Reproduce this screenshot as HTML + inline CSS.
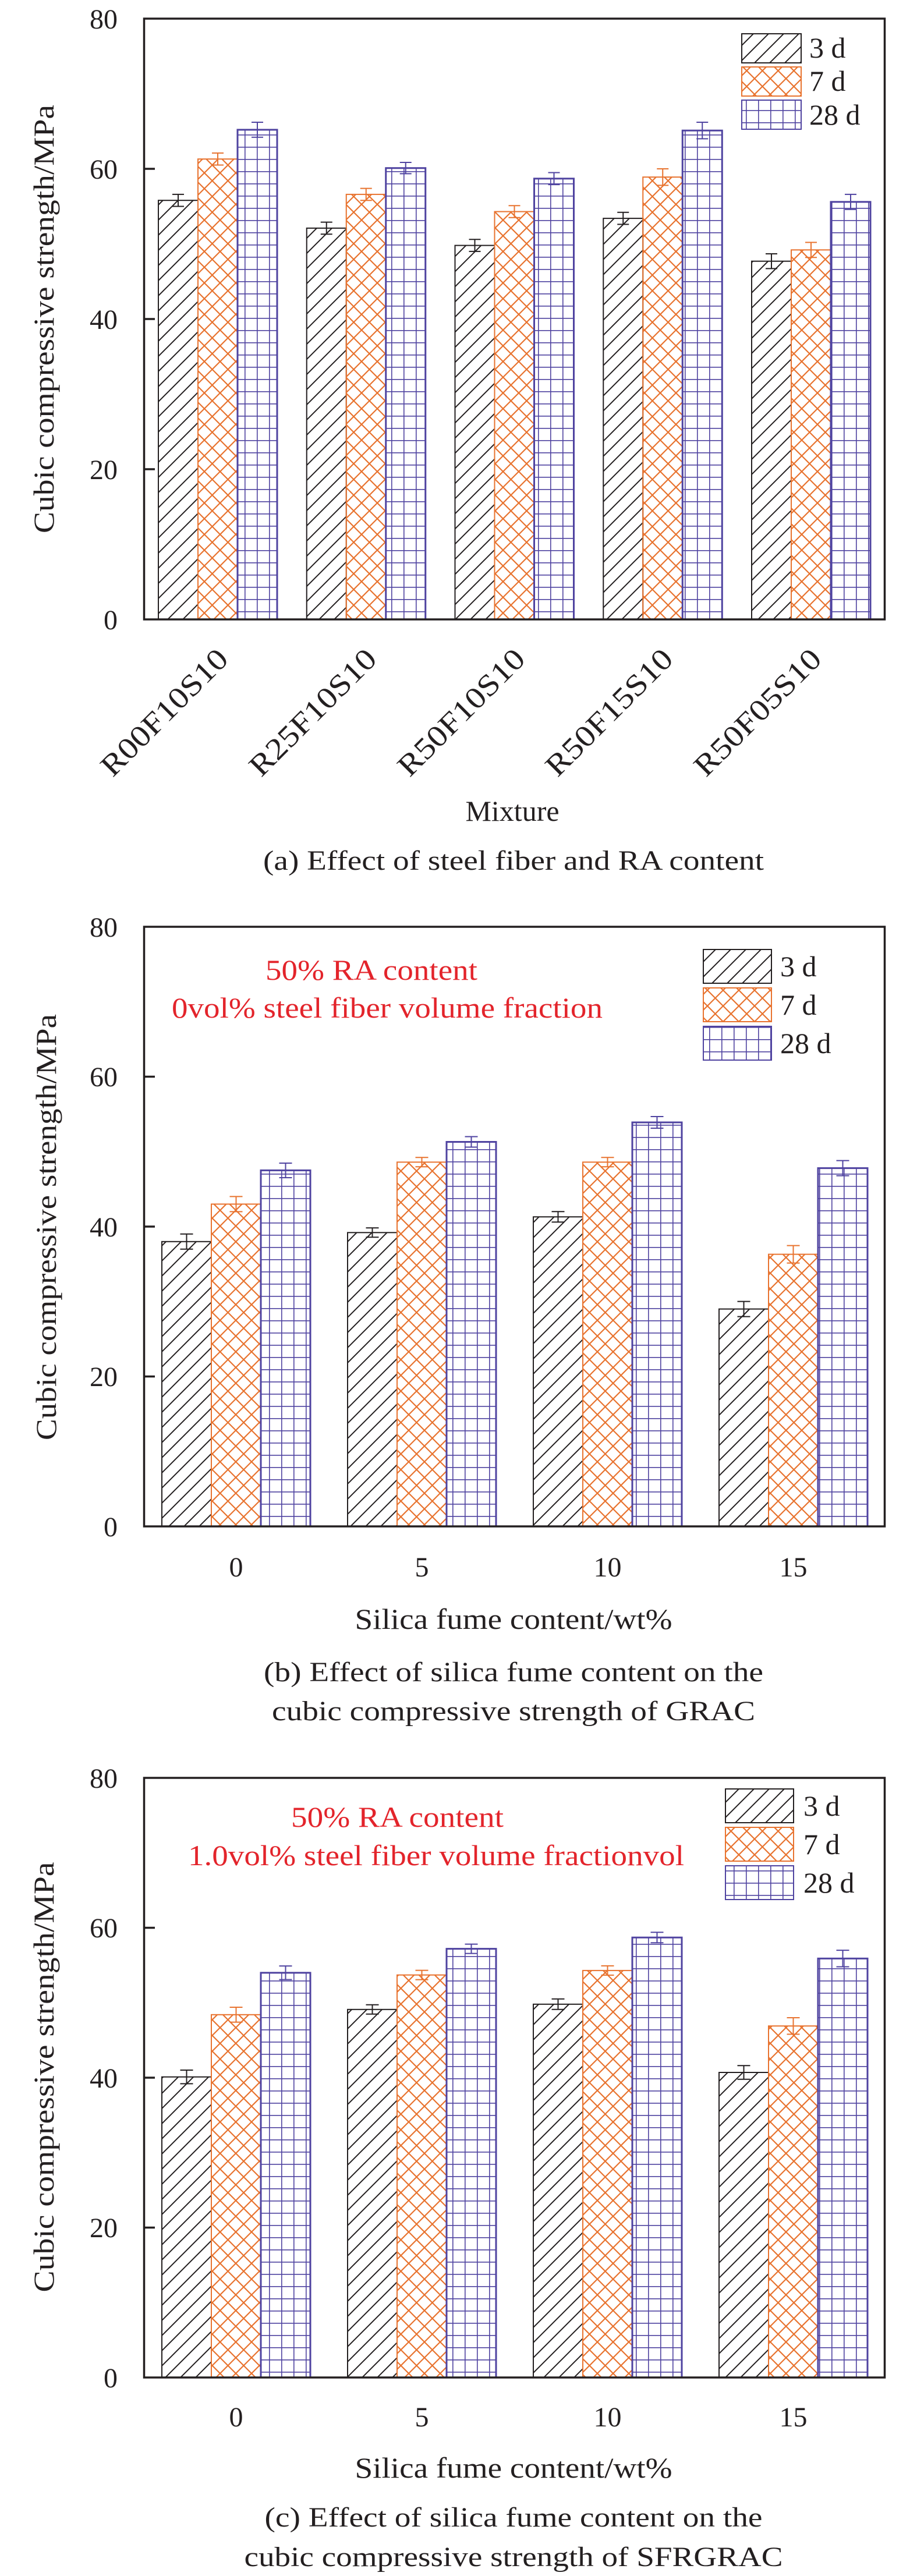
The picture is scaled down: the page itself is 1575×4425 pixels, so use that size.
<!DOCTYPE html>
<html><head><meta charset="utf-8"><style>html,body{margin:0;padding:0;background:#fff}svg{display:block}svg text{font-family:"Liberation Serif","Times New Roman","DejaVu Serif",serif;fill:#231f20}</style></head><body>
<svg width="1575" height="4425" viewBox="0 0 1575 4425" xmlns="http://www.w3.org/2000/svg" font-family="Liberation Serif, Times New Roman, DejaVu Serif, serif">
<defs>
<pattern id="ph" patternUnits="userSpaceOnUse" width="26" height="26"><path d="M-2,28 L28,-2 M-15,15 L15,-15 M11,41 L41,11" stroke="#231f20" stroke-width="2"/></pattern>
<pattern id="px" patternUnits="userSpaceOnUse" width="27" height="27"><path d="M0,0 L27,27 M27,0 L0,27" stroke="#e8732f" stroke-width="2.2"/></pattern>
<pattern id="pg" patternUnits="userSpaceOnUse" width="21" height="21"><path d="M0,0.5 H21 M0.5,0 V21" stroke="#4f43a0" stroke-width="2.2"/></pattern>
</defs>
<g id="A">
<g stroke-width="2">
<rect x="272" y="344.2" width="68" height="719.8" fill="url(#ph)" stroke="#231f20"/>
<rect x="340" y="273.2" width="68" height="790.8" fill="url(#px)" stroke="#e8732f"/>
<rect x="408" y="222.9" width="68" height="841.1" fill="url(#pg)" stroke="#4f43a0" stroke-width="3"/>
<rect x="526.75" y="391.9" width="68" height="672.1" fill="url(#ph)" stroke="#231f20"/>
<rect x="594.75" y="333.9" width="68" height="730.1" fill="url(#px)" stroke="#e8732f"/>
<rect x="662.75" y="288.7" width="68" height="775.3" fill="url(#pg)" stroke="#4f43a0" stroke-width="3"/>
<rect x="781.5" y="421.6" width="68" height="642.4" fill="url(#ph)" stroke="#231f20"/>
<rect x="849.5" y="363.5" width="68" height="700.5" fill="url(#px)" stroke="#e8732f"/>
<rect x="917.5" y="306.8" width="68" height="757.2" fill="url(#pg)" stroke="#4f43a0" stroke-width="3"/>
<rect x="1036.25" y="375.1" width="68" height="688.9" fill="url(#ph)" stroke="#231f20"/>
<rect x="1104.25" y="304.2" width="68" height="759.8" fill="url(#px)" stroke="#e8732f"/>
<rect x="1172.25" y="224.2" width="68" height="839.8" fill="url(#pg)" stroke="#4f43a0" stroke-width="3"/>
<rect x="1291" y="448.7" width="68" height="615.3" fill="url(#ph)" stroke="#231f20"/>
<rect x="1359" y="429.3" width="68" height="634.7" fill="url(#px)" stroke="#e8732f"/>
<rect x="1427" y="346.8" width="68" height="717.2" fill="url(#pg)" stroke="#4f43a0" stroke-width="3"/>
</g>
<g stroke-width="2" fill="none">
<path stroke="#231f20" d="M306,333.9V354.5M296,333.9H316M296,354.5H316 M560.75,381.6V402.2M550.75,381.6H570.75M550.75,402.2H570.75 M815.5,411.3V431.9M805.5,411.3H825.5M805.5,431.9H825.5 M1070.25,364.8V385.4M1060.25,364.8H1080.25M1060.25,385.4H1080.25 M1325,436V461.4M1315,436H1335M1315,461.4H1335"/>
<path stroke="#e8732f" d="M374,262.9V283.5M364,262.9H384M364,283.5H384 M628.75,323.6V344.2M618.75,323.6H638.75M618.75,344.2H638.75 M883.5,353.2V373.8M873.5,353.2H893.5M873.5,373.8H893.5 M1138.25,290V318.4M1128.25,290H1148.25M1128.25,318.4H1148.25 M1393,416.4V442.2M1383,416.4H1403M1383,442.2H1403"/>
<path stroke="#4f43a0" d="M442,210V235.8M432,210H452M432,235.8H452 M696.75,279V298.4M686.75,279H706.75M686.75,298.4H706.75 M951.5,296.5V317.1M941.5,296.5H961.5M941.5,317.1H961.5 M1206.25,210V238.4M1196.25,210H1216.25M1196.25,238.4H1216.25 M1461,333.9V359.7M1451,333.9H1471M1451,359.7H1471"/>
</g>
<rect x="247.5" y="32" width="1272" height="1032" fill="none" stroke="#231f20" stroke-width="3.5"/>
<path d="M247,290H266M247,548H266M247,806H266" stroke="#231f20" stroke-width="3.5"/>
<g font-size="48" text-anchor="end"><text x="202" y="49">80</text><text x="202" y="307">60</text><text x="202" y="565">40</text><text x="202" y="823">20</text><text x="202" y="1081">0</text></g>
<text transform="translate(92,548) rotate(-90)" font-size="50" text-anchor="middle" textLength="736" lengthAdjust="spacingAndGlyphs">Cubic compressive strength/MPa</text>
<g font-size="52" text-anchor="end">
<text transform="translate(395,1135) rotate(-45)" textLength="285" lengthAdjust="spacingAndGlyphs">R00F10S10</text>
<text transform="translate(650,1135) rotate(-45)" textLength="285" lengthAdjust="spacingAndGlyphs">R25F10S10</text>
<text transform="translate(905,1135) rotate(-45)" textLength="285" lengthAdjust="spacingAndGlyphs">R50F10S10</text>
<text transform="translate(1159,1135) rotate(-45)" textLength="285" lengthAdjust="spacingAndGlyphs">R50F15S10</text>
<text transform="translate(1414,1135) rotate(-45)" textLength="285" lengthAdjust="spacingAndGlyphs">R50F05S10</text>
</g>
<text x="880" y="1410" font-size="50" text-anchor="middle">Mixture</text>
<text x="882" y="1494" font-size="48" text-anchor="middle" textLength="860" lengthAdjust="spacingAndGlyphs">(a) Effect of steel fiber and RA content</text>
<rect x="1274" y="58" width="102" height="50" fill="url(#ph)" stroke="#231f20" stroke-width="2"/>
<rect x="1274" y="115" width="102" height="50" fill="url(#px)" stroke="#e8732f" stroke-width="2"/>
<rect x="1274" y="172" width="102" height="50" fill="url(#pg)" stroke="#4f43a0" stroke-width="2"/>
<g font-size="50"><text x="1390" y="99">3 d</text><text x="1390" y="156">7 d</text><text x="1390" y="214">28 d</text></g>
</g>

<g>
<g stroke-width="2">
<rect x="278" y="2132.8" width="85" height="489.2" fill="url(#ph)" stroke="#231f20"/>
<rect x="363" y="2068.4" width="85" height="553.6" fill="url(#px)" stroke="#e8732f"/>
<rect x="448" y="2010.4" width="85" height="611.6" fill="url(#pg)" stroke="#4f43a0" stroke-width="3"/>
<rect x="597" y="2117.3" width="85" height="504.7" fill="url(#ph)" stroke="#231f20"/>
<rect x="682" y="1996.3" width="85" height="625.7" fill="url(#px)" stroke="#e8732f"/>
<rect x="767" y="1961.5" width="85" height="660.5" fill="url(#pg)" stroke="#4f43a0" stroke-width="3"/>
<rect x="916" y="2090.3" width="85" height="531.7" fill="url(#ph)" stroke="#231f20"/>
<rect x="1001" y="1996.3" width="85" height="625.7" fill="url(#px)" stroke="#e8732f"/>
<rect x="1086" y="1928" width="85" height="694" fill="url(#pg)" stroke="#4f43a0" stroke-width="3"/>
<rect x="1235" y="2248.6" width="85" height="373.4" fill="url(#ph)" stroke="#231f20"/>
<rect x="1320" y="2154.6" width="85" height="467.4" fill="url(#px)" stroke="#e8732f"/>
<rect x="1405" y="2006.6" width="85" height="615.4" fill="url(#pg)" stroke="#4f43a0" stroke-width="3"/>
</g>
<g stroke-width="2" fill="none">
<path stroke="#231f20" d="M320.5,2119.8V2145.8M309.5,2119.8H331.5M309.5,2145.8H331.5 M639.5,2109.3V2125.3M628.5,2109.3H650.5M628.5,2125.3H650.5 M958.5,2081.3V2099.3M947.5,2081.3H969.5M947.5,2099.3H969.5 M1277.5,2235.6V2261.6M1266.5,2235.6H1288.5M1266.5,2261.6H1288.5"/>
<path stroke="#e8732f" d="M405.5,2055.4V2081.4M394.5,2055.4H416.5M394.5,2081.4H416.5 M724.5,1988.3V2004.3M713.5,1988.3H735.5M713.5,2004.3H735.5 M1043.5,1988.3V2004.3M1032.5,1988.3H1054.5M1032.5,2004.3H1054.5 M1362.5,2139.6V2169.6M1351.5,2139.6H1373.5M1351.5,2169.6H1373.5"/>
<path stroke="#4f43a0" d="M490.5,1998V2023M479.5,1998H501.5M479.5,2023H501.5 M809.5,1952.5V1970.5M798.5,1952.5H820.5M798.5,1970.5H820.5 M1128.5,1918V1938M1117.5,1918H1139.5M1117.5,1938H1139.5 M1447.5,1993.6V2019.6M1436.5,1993.6H1458.5M1436.5,2019.6H1458.5"/>
</g>
<rect x="247.5" y="1592" width="1272" height="1030" fill="none" stroke="#231f20" stroke-width="3.5"/>
<path d="M247,1849.5H266M247,2107H266M247,2364.5H266" stroke="#231f20" stroke-width="3.5"/>
<g font-size="48" text-anchor="end"><text x="202" y="1609">80</text><text x="202" y="1866">60</text><text x="202" y="2124">40</text><text x="202" y="2381">20</text><text x="202" y="2639">0</text></g>
<text transform="translate(96,2108) rotate(-90)" font-size="50" text-anchor="middle" textLength="732" lengthAdjust="spacingAndGlyphs">Cubic compressive strength/MPa</text>
<g font-size="48" text-anchor="middle"><text x="405.5" y="2708">0</text><text x="724.5" y="2708">5</text><text x="1043.5" y="2708">10</text><text x="1362.5" y="2708">15</text></g>
<text x="882" y="2798" font-size="50" text-anchor="middle" textLength="545" lengthAdjust="spacingAndGlyphs">Silica fume content/wt%</text>
<text x="882" y="2888" font-size="48" text-anchor="middle" textLength="858" lengthAdjust="spacingAndGlyphs">(b) Effect of silica fume content on the</text>
<text x="882" y="2955" font-size="48" text-anchor="middle" textLength="830" lengthAdjust="spacingAndGlyphs">cubic compressive strength of GRAC</text>
<g font-size="50"><text x="456" y="1683" style="fill:#e3242b" textLength="364" lengthAdjust="spacingAndGlyphs">50% RA content</text><text x="295" y="1748" style="fill:#e3242b" textLength="740" lengthAdjust="spacingAndGlyphs">0vol% steel fiber volume fraction</text></g>
<rect x="1208" y="1631" width="117" height="58" fill="url(#ph)" stroke="#231f20" stroke-width="2"/>
<rect x="1208" y="1697" width="117" height="58" fill="url(#px)" stroke="#e8732f" stroke-width="2"/>
<rect x="1208" y="1763" width="117" height="58" fill="url(#pg)" stroke="#4f43a0" stroke-width="2"/>
<g font-size="50"><text x="1340" y="1677">3 d</text><text x="1340" y="1743">7 d</text><text x="1340" y="1809">28 d</text></g>
</g>

<g>
<g stroke-width="2">
<rect x="278" y="3567.7" width="85" height="516.3" fill="url(#ph)" stroke="#231f20"/>
<rect x="363" y="3460.8" width="85" height="623.2" fill="url(#px)" stroke="#e8732f"/>
<rect x="448" y="3388.8" width="85" height="695.2" fill="url(#pg)" stroke="#4f43a0" stroke-width="3"/>
<rect x="597" y="3451.8" width="85" height="632.2" fill="url(#ph)" stroke="#231f20"/>
<rect x="682" y="3392.6" width="85" height="691.4" fill="url(#px)" stroke="#e8732f"/>
<rect x="767" y="3347.6" width="85" height="736.4" fill="url(#pg)" stroke="#4f43a0" stroke-width="3"/>
<rect x="916" y="3442.8" width="85" height="641.2" fill="url(#ph)" stroke="#231f20"/>
<rect x="1001" y="3384.9" width="85" height="699.1" fill="url(#px)" stroke="#e8732f"/>
<rect x="1086" y="3328.2" width="85" height="755.8" fill="url(#pg)" stroke="#4f43a0" stroke-width="3"/>
<rect x="1235" y="3560" width="85" height="524" fill="url(#ph)" stroke="#231f20"/>
<rect x="1320" y="3480.2" width="85" height="603.8" fill="url(#px)" stroke="#e8732f"/>
<rect x="1405" y="3364.3" width="85" height="719.7" fill="url(#pg)" stroke="#4f43a0" stroke-width="3"/>
</g>
<g stroke-width="2" fill="none">
<path stroke="#231f20" d="M320.5,3556V3579.4M309.5,3556H331.5M309.5,3579.4H331.5 M639.5,3443.8V3459.8M628.5,3443.8H650.5M628.5,3459.8H650.5 M958.5,3433.8V3451.8M947.5,3433.8H969.5M947.5,3451.8H969.5 M1277.5,3548.3V3571.7M1266.5,3548.3H1288.5M1266.5,3571.7H1288.5"/>
<path stroke="#e8732f" d="M405.5,3448V3473.6M394.5,3448H416.5M394.5,3473.6H416.5 M724.5,3384.6V3400.6M713.5,3384.6H735.5M713.5,3400.6H735.5 M1043.5,3376.9V3392.9M1032.5,3376.9H1054.5M1032.5,3392.9H1054.5 M1362.5,3466V3494.4M1351.5,3466H1373.5M1351.5,3494.4H1373.5"/>
<path stroke="#4f43a0" d="M490.5,3377.1V3400.5M479.5,3377.1H501.5M479.5,3400.5H501.5 M809.5,3339.6V3355.6M798.5,3339.6H820.5M798.5,3355.6H820.5 M1128.5,3319.2V3337.2M1117.5,3319.2H1139.5M1117.5,3337.2H1139.5 M1447.5,3350.1V3378.5M1436.5,3350.1H1458.5M1436.5,3378.5H1458.5"/>
</g>
<rect x="247.5" y="3054" width="1272" height="1030" fill="none" stroke="#231f20" stroke-width="3.5"/>
<path d="M247,3311.5H266M247,3569H266M247,3826.5H266" stroke="#231f20" stroke-width="3.5"/>
<g font-size="48" text-anchor="end"><text x="202" y="3071">80</text><text x="202" y="3328">60</text><text x="202" y="3586">40</text><text x="202" y="3843">20</text><text x="202" y="4101">0</text></g>
<text transform="translate(92,3568) rotate(-90)" font-size="50" text-anchor="middle" textLength="739" lengthAdjust="spacingAndGlyphs">Cubic compressive strength/MPa</text>
<g font-size="48" text-anchor="middle"><text x="405.5" y="4168">0</text><text x="724.5" y="4168">5</text><text x="1043.5" y="4168">10</text><text x="1362.5" y="4168">15</text></g>
<text x="882" y="4256" font-size="50" text-anchor="middle" textLength="545" lengthAdjust="spacingAndGlyphs">Silica fume content/wt%</text>
<text x="882" y="4340" font-size="48" text-anchor="middle" textLength="855" lengthAdjust="spacingAndGlyphs">(c) Effect of silica fume content on the</text>
<text x="882" y="4408" font-size="48" text-anchor="middle" textLength="925" lengthAdjust="spacingAndGlyphs">cubic compressive strength of SFRGRAC</text>
<g font-size="50"><text x="500" y="3138" style="fill:#e3242b" textLength="365" lengthAdjust="spacingAndGlyphs">50% RA content</text><text x="323" y="3204" style="fill:#e3242b" textLength="852" lengthAdjust="spacingAndGlyphs">1.0vol% steel fiber volume fractionvol</text></g>
<rect x="1246" y="3073" width="117" height="58" fill="url(#ph)" stroke="#231f20" stroke-width="2"/>
<rect x="1246" y="3139" width="117" height="58" fill="url(#px)" stroke="#e8732f" stroke-width="2"/>
<rect x="1246" y="3205" width="117" height="58" fill="url(#pg)" stroke="#4f43a0" stroke-width="2"/>
<g font-size="50"><text x="1380" y="3119">3 d</text><text x="1380" y="3185">7 d</text><text x="1380" y="3251">28 d</text></g>
</g>
</svg>
</body></html>
